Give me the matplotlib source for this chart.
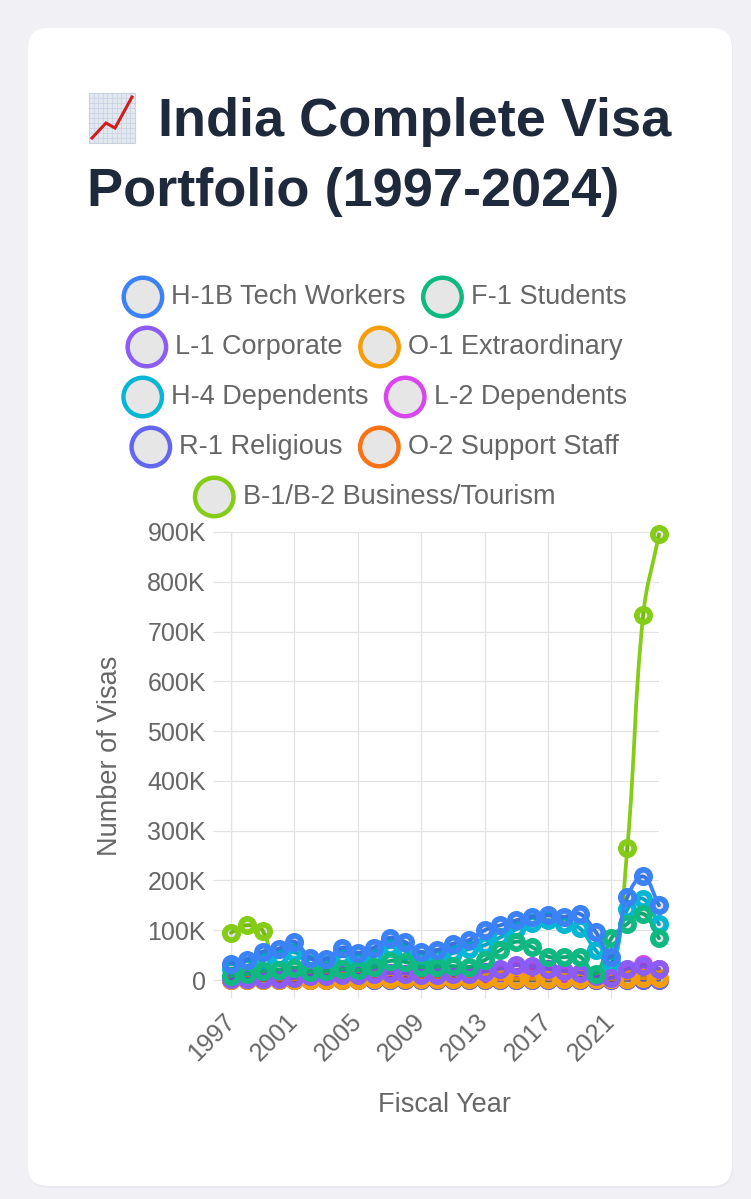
import numpy as np
import matplotlib
matplotlib.use("Agg")
import matplotlib.pyplot as plt
from matplotlib.path import Path
from matplotlib.patches import PathPatch, FancyBboxPatch, Circle, Rectangle
from matplotlib.ticker import FuncFormatter

plt.rcParams['font.family'] = ['Liberation Sans', 'DejaVu Sans']

# data (thousands of visas)
years = list(range(1997, 2025))
h1b = [33, 41, 57, 63, 77, 44, 42, 65, 55, 65, 85, 76, 56, 60, 73, 80, 100, 110, 120, 127, 130, 127, 133, 97, 47, 166, 208, 150]
f1 = [8, 12, 18, 21, 25, 17, 18, 22, 20, 26, 38, 36, 26, 27, 28, 26, 40, 60, 77, 66, 47, 46, 47, 13, 84, 113, 133, 84]
l1 = [2, 2, 3, 3, 4, 9, 9, 10, 11, 12, 14, 13, 11, 11, 12, 13, 17, 23, 30, 28, 22, 18, 15, 8, 4, 23, 28, 23]
o1 = [0.5, 0.6, 0.7, 0.8, 0.9, 0.8, 0.8, 0.9, 1.0, 1.1, 1.3, 1.4, 1.2, 1.3, 1.5, 1.6, 1.8, 2.0, 2.2, 2.4, 2.5, 2.6, 2.7, 1.5, 1.2, 3.0, 3.5, 3.8]
h4 = [22, 28, 40, 46, 56, 32, 30, 48, 40, 48, 66, 58, 42, 46, 54, 62, 70, 86, 102, 114, 120, 112, 104, 60, 35, 142, 163, 112]
l2 = [1, 2, 3, 4, 5, 3, 3, 4, 5, 6, 8, 7, 6, 6, 8, 9, 12, 16, 20, 22, 18, 15, 12, 6, 3, 20, 32, 22]
r1 = [0.3, 0.3, 0.4, 0.4, 0.5, 0.4, 0.4, 0.5, 0.5, 0.6, 0.7, 0.7, 0.6, 0.6, 0.7, 0.7, 0.8, 0.8, 0.9, 0.9, 0.9, 0.8, 0.8, 0.4, 0.3, 0.8, 0.9, 0.9]
o2 = [0.1, 0.1, 0.1, 0.2, 0.2, 0.2, 0.2, 0.2, 0.2, 0.3, 0.3, 0.3, 0.3, 0.3, 0.3, 0.4, 0.4, 0.4, 0.5, 0.5, 0.5, 0.5, 0.5, 0.3, 0.2, 0.6, 0.7, 0.7]
b1b2 = [95, 110, 99] + [0] * 22 + [265, 733, 895]

labels = ['H-1B Tech Workers', 'F-1 Students', 'L-1 Corporate', 'O-1 Extraordinary',
          'H-4 Dependents', 'L-2 Dependents', 'R-1 Religious', 'O-2 Support Staff',
          'B-1/B-2 Business/Tourism']
series = [h1b, f1, l1, o1, h4, l2, r1, o2, b1b2]
colors = ['#3b82f6', '#10b981', '#8b5cf6', '#f59e0b', '#06b6d4', '#d946ef', '#6366f1', '#f97316', '#84cc16']

W, H = 751, 1199
fig = plt.figure(figsize=(W / 100, H / 100), dpi=100)
fig.patch.set_facecolor('#f1f0f5')

# background layer in pixel coordinates
bg = fig.add_axes([0, 0, 1, 1], zorder=-1)
bg.set_xlim(0, W)
bg.set_ylim(H, 0)
bg.axis('off')
bg.add_patch(FancyBboxPatch((29, 30), 704, 1158, boxstyle="round,pad=0,rounding_size=20",
                            fc='#e4e3ea', ec='none', alpha=0.6))
bg.add_patch(FancyBboxPatch((28, 28), 704, 1158, boxstyle="round,pad=0,rounding_size=20",
                            fc='white', ec='none'))

# title icon (chart emoji)
ix, iy, iw, ih = 89, 93, 46, 50
bg.add_patch(Rectangle((ix, iy), iw, ih, fc='#e3e8f0', ec='#c9d2e0', lw=0.8))
for k in range(1, 10):
    bg.plot([ix + iw * k / 10] * 2, [iy, iy + ih], color='#c5d0e2', lw=0.5)
    bg.plot([ix, ix + iw], [iy + ih * k / 10] * 2, color='#c5d0e2', lw=0.5)
bg.plot([ix + 3, ix + 17, ix + 26, ix + 43], [iy + 45, iy + 30, iy + 35, iy + 4],
        color='#d01c1c', lw=2.2, solid_joinstyle='miter')

bg.text(158, 136, 'India Complete Visa', fontsize=39, fontweight='bold', color='#1e293b',
        ha='left', va='baseline')
bg.text(87, 206, 'Portfolio (1997-2024)', fontsize=39, fontweight='bold', color='#1e293b',
        ha='left', va='baseline')

# legend
renderer = fig.canvas.get_renderer()
rows = [[0, 1], [2, 3], [4, 5], [6, 7], [8]]
row_y = [297, 347, 397, 447, 497]
circ_d, gap, item_gap, cx = 43, 7, 15, 374
for row, y in zip(rows, row_y):
    texts = []
    widths = []
    for idx in row:
        t = bg.text(0, y, labels[idx], fontsize=19.5, color='#666666', ha='left', va='center')
        texts.append(t)
        widths.append(t.get_window_extent(renderer).width)
    total = sum(circ_d + gap + w for w in widths) + item_gap * (len(row) - 1)
    x = cx - total / 2
    for idx, t, w in zip(row, texts, widths):
        bg.add_patch(Circle((x + circ_d / 2, y), (circ_d - 4.5) / 2, fc='#e6e6e6',
                            ec=colors[idx], lw=3.2))
        t.set_x(x + circ_d + gap)
        x += circ_d + gap + w + item_gap

# chart area
x0, x1, y_top, y_bot = 231, 659, 532, 980
ax = fig.add_axes([x0 / W, 1 - y_bot / H, (x1 - x0) / W, (y_bot - y_top) / H])
ax.set_facecolor('none')
ax.set_xlim(1997, 2024)
ax.set_ylim(0, 900000)
ax.set_yticks(np.arange(0, 900001, 100000))
ax.yaxis.set_major_formatter(FuncFormatter(lambda v, p: '0' if v == 0 else f'{int(v / 1000)}K'))
ax.set_xticks(years[::4])
ax.set_xticklabels([str(y) for y in years[::4]], rotation=45, ha='right', va='center',
                   rotation_mode='anchor')
ax.grid(True, color='#e3e3e3', lw=0.9)
ax.set_axisbelow(True)
for s in ['top', 'right']:
    ax.spines[s].set_visible(False)
for s in ['left', 'bottom']:
    ax.spines[s].set_color('#e3e3e3')
    ax.spines[s].set_linewidth(0.9)
ax.tick_params(axis='both', length=13, width=0.9, color='#e3e3e3', labelcolor='#666666',
               labelsize=18, pad=5)
ax.tick_params(axis='x', pad=14)

fig.text(110 / W, 1 - 756 / H, 'Number of Visas', rotation=90, ha='center', va='center',
         fontsize=19.5, color='#666666')
fig.text(445 / W, 1 - 1105 / H, 'Fiscal Year', ha='center', va='center',
         fontsize=19.5, color='#666666')


def smooth_path(xs, ys, t=0.4):
    pts = ax.transData.transform(np.column_stack([xs, ys]))
    bb = ax.bbox
    n = len(pts)
    cps = []
    for i in range(n):
        cur = pts[i]
        prev = pts[i - 1] if i > 0 else cur
        nxt = pts[i + 1] if i < n - 1 else cur
        d01 = np.hypot(*(cur - prev))
        d12 = np.hypot(*(nxt - cur))
        s = d01 + d12
        s01 = d01 / s if s else 0
        s12 = d12 / s if s else 0
        cp = [cur - t * s01 * (nxt - prev), cur + t * s12 * (nxt - prev)]
        cp = [np.array([np.clip(c[0], bb.x0, bb.x1), np.clip(c[1], bb.y0, bb.y1)]) for c in cp]
        cps.append(cp)
    verts = [pts[0]]
    codes = [Path.MOVETO]
    for i in range(1, n):
        verts += [cps[i - 1][1], cps[i][0], pts[i]]
        codes += [Path.CURVE4] * 3
    verts = ax.transData.inverted().transform(np.array(verts))
    return Path(verts, codes)


n = len(series)
for i, (vals, c) in enumerate(zip(series, colors)):
    v = np.array(vals) * 1000
    z = 10 + 2 * (n - i)
    ax.add_patch(PathPatch(smooth_path(years, v), fc='none', ec=c, lw=2.7, zorder=z,
                           clip_on=False, capstyle='round', joinstyle='round'))
    ax.plot(years, v, ls='none', marker='o', ms=9.6, mew=4.1, mec=c, mfc=(0, 0, 0, 0.1),
            zorder=z + 1, clip_on=False)

fig.savefig('out.png', dpi=100, facecolor=fig.get_facecolor())
